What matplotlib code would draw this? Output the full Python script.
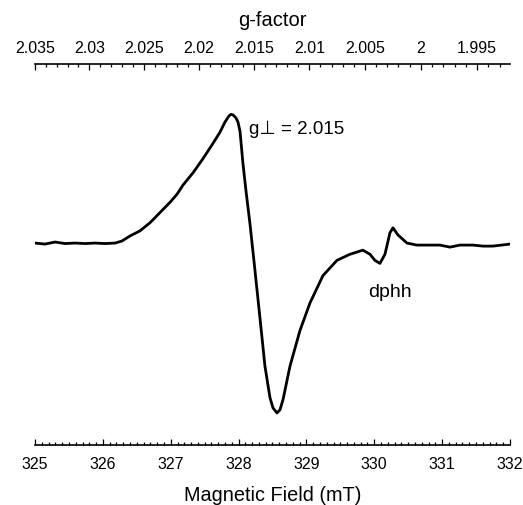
import numpy as np
import matplotlib.pyplot as plt
from matplotlib.ticker import MultipleLocator, FixedLocator, FuncFormatter

plt.rcParams['font.family'] = ['Liberation Sans', 'DejaVu Sans']

# EPR spectrum (field in mT, intensity in arbitrary units)
field = np.array([325.00, 325.147, 325.295, 325.442, 325.589, 325.737, 325.884,
                  326.032, 326.179, 326.282, 326.400, 326.547, 326.695, 326.842,
                  326.989, 327.093, 327.181, 327.328, 327.476, 327.623, 327.726,
                  327.800, 327.859, 327.889, 327.918, 327.962, 327.991, 328.021,
                  328.065, 328.110, 328.168, 328.242, 328.316, 328.389, 328.463,
                  328.507, 328.566, 328.610, 328.655, 328.758, 328.905, 329.052,
                  329.244, 329.450, 329.642, 329.833, 329.937, 330.010, 330.084,
                  330.158, 330.231, 330.276, 330.349, 330.482, 330.629, 330.821,
                  330.968, 331.116, 331.263, 331.455, 331.602, 331.749, 332.00])
intensity = np.array([0, -1, 1, -0.5, 0, -0.5, 0,
                      -0.5, 0, 2, 7, 12, 20, 30,
                      40, 48, 57, 69, 83, 98, 109,
                      119, 125, 126.5, 126, 123, 119, 110,
                      78, 51, 19, -27, -74, -121, -152,
                      -162, -167, -164, -154, -121, -86, -59,
                      -32, -17, -11, -7, -11, -17, -20,
                      -11, 10, 15, 8, 0, -2, -2,
                      -2, -4, -2, -2, -3, -3, -1])

g_ticks = [2.035, 2.03, 2.025, 2.02, 2.015, 2.01, 2.005, 2.0, 1.995]
C = 2.035 * 325.0  # g * B = h*nu / mu_B


def b_to_g(b):
    b = np.asarray(b, dtype=float)
    with np.errstate(divide='ignore'):
        return C / b


fig = plt.figure(figsize=(5.23, 5.06), dpi=100)
ax = fig.add_axes([0.067, 0.1176, 0.908, 0.7539])
ax.plot(field, intensity, color='black', lw=2.0, solid_joinstyle='round')

ax.set_xlim(325, 332)
ax.set_ylim(-199, 176)
for s in ['left', 'right', 'top']:
    ax.spines[s].set_visible(False)
ax.spines['bottom'].set_linewidth(1.2)
ax.set_yticks([])
ax.xaxis.set_major_locator(MultipleLocator(1))
ax.xaxis.set_minor_locator(MultipleLocator(0.1))
ax.tick_params(axis='x', which='major', direction='in', length=4.5, width=0.9,
               labelsize=11.5, pad=7.5)
ax.tick_params(axis='x', which='minor', direction='in', length=2.2, width=0.9)
ax.set_xlabel('Magnetic Field (mT)', fontsize=14.3, labelpad=10)

secax = ax.secondary_xaxis('top', functions=(b_to_g, b_to_g))
secax.spines['top'].set_linewidth(1.2)
secax.xaxis.set_major_locator(FixedLocator(g_ticks))
secax.xaxis.set_minor_locator(MultipleLocator(0.001))
secax.xaxis.set_major_formatter(FuncFormatter(lambda v, p: '%g' % round(v, 4)))
secax.tick_params(axis='x', which='major', direction='in', length=4.5, width=0.9,
                  labelsize=11.5, pad=6.5)
secax.tick_params(axis='x', which='minor', direction='in', length=2.2, width=0.9)
secax.set_xlabel('g-factor', fontsize=14.5, labelpad=11)

ax.text(328.15, 113, 'g\u22a5 = 2.015', fontsize=13.5, ha='left', va='center')
ax.text(330.23, -48, 'dphh', fontsize=14, ha='center', va='center')

fig.savefig('out.png', dpi=100)
